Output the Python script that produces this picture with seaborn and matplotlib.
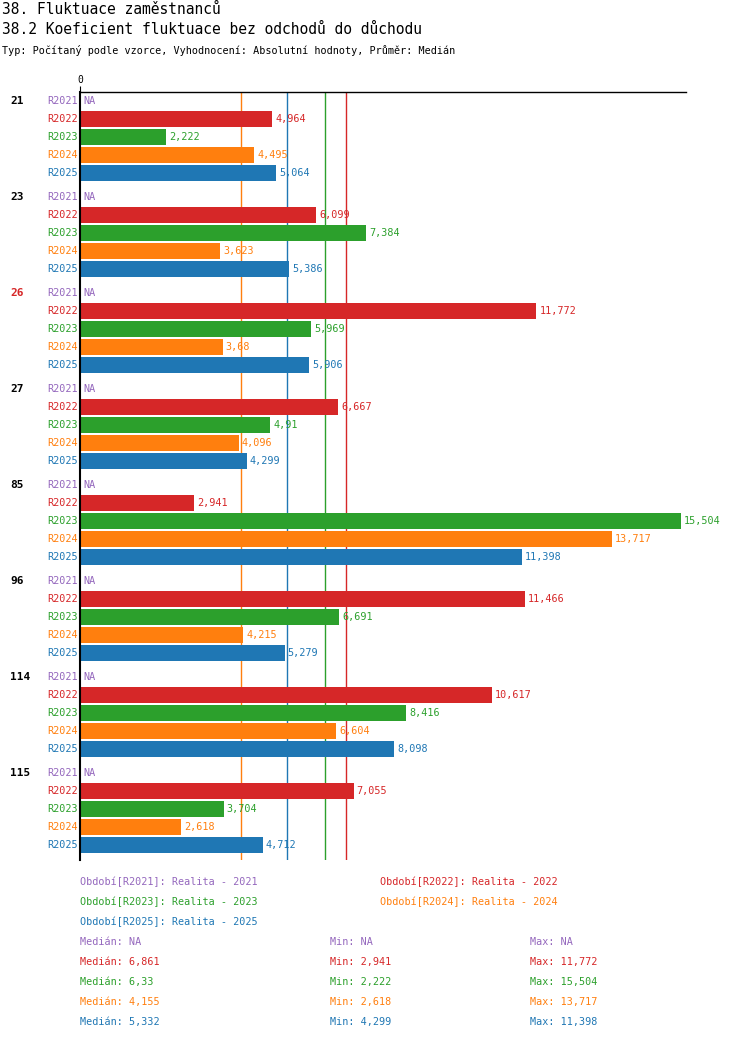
import matplotlib
matplotlib.use("Agg")
import matplotlib.pyplot as plt
import seaborn as sns
import pandas as pd
import numpy as np

groups = ["21", "23", "26", "27", "85", "96", "114", "115"]
series = ["R2021", "R2022", "R2023", "R2024", "R2025"]
colors = ["#9467bd", "#d62728", "#2ca02c", "#ff7f0e", "#1f77b4"]
r2021 = [np.nan] * 8
r2022 = [4.964, 6.099, 11.772, 6.667, 2.941, 11.466, 10.617, 7.055]
r2023 = [2.222, 7.384, 5.969, 4.91, 15.504, 6.691, 8.416, 3.704]
r2024 = [4.495, 3.623, 3.68, 4.096, 13.717, 4.215, 6.604, 2.618]
r2025 = [5.064, 5.386, 5.906, 4.299, 11.398, 5.279, 8.098, 4.712]
medians = [np.nan, 6.861, 6.33, 4.155, 5.332]
mins = [np.nan, 2.941, 2.222, 2.618, 4.299]
maxs = [np.nan, 11.772, 15.504, 13.717, 11.398]
highlight = "26"

def fmt(v):
    if np.isnan(v):
        return "NA"
    s = ("%.3f" % v).rstrip("0").rstrip(".")
    return s.replace(".", ",")

vals = [r2021, r2022, r2023, r2024, r2025]
GROUP_STEP = 96 / 18
rows = []
for g, grp in enumerate(groups):
    for i, s in enumerate(series):
        rows.append(dict(group=grp, series=s, value=vals[i][g], pos=g * GROUP_STEP + i))
df = pd.DataFrame(rows)

plt.rcParams["font.family"] = ["DejaVu Sans Mono"]
fig = plt.figure(figsize=(7.5, 10.4), dpi=100)
W, H = 750, 1040
ax = fig.add_axes([80 / W, 1 - 860 / H, (686 - 80) / W, (860 - 92) / H])
sns.barplot(data=df, x="value", y="pos", hue="series", palette=dict(zip(series, colors)),
            orient="h", native_scale=True, width=0.9, dodge=False, legend=False, ax=ax,
            saturation=1)
ax.set_xlim(0, (686 - 80) / 38.77)
ax.set_ylim(df["pos"].max() + 0.83, -0.5)
for sp in ["right", "bottom"]:
    ax.spines[sp].set_visible(False)
ax.spines["left"].set_linewidth(1.5)
ax.spines["top"].set_linewidth(1)
ax.xaxis.tick_top()
ax.set_xticks([0])
ax.set_xticklabels(["0"], fontsize=7)
ax.tick_params(axis="x", length=4, pad=1)
ax.set_yticks([])
ax.set_xlabel("")
ax.set_ylabel("")

for m, c in zip(medians, colors):
    if not np.isnan(m):
        ax.axvline(m, color=c, lw=1, zorder=0)

for _, r in df.iterrows():
    c = colors[series.index(r.series)]
    v = r.value
    ax.text((0 if np.isnan(v) else v) + 0.08, r.pos, fmt(v), color=c, fontsize=7.3,
            va="center", ha="left")
    ax.text(-0.05, r.pos, r.series, color=c, fontsize=7.3, va="center", ha="right",
            transform=ax.get_yaxis_transform() if False else ax.transData)
for g, grp in enumerate(groups):
    ax.text(10 / W, 1 - (101 + g * 96) / H, grp, transform=fig.transFigure, fontsize=8,
            fontweight="bold", va="center", color="#d62728" if grp == highlight else "black")

fig.text(2 / W, 1 - 10 / H, "38. Fluktuace zaměstnanců", fontsize=10.5, va="center")
fig.text(2 / W, 1 - 30 / H, "38.2 Koeficient fluktuace bez odchodů do důchodu", fontsize=10.5, va="center")
fig.text(2 / W, 1 - 50 / H, "Typ: Počítaný podle vzorce, Vyhodnocení: Absolutní hodnoty, Průměr: Medián",
         fontsize=7.3, va="center")

names = ["Realita - 2021", "Realita - 2022", "Realita - 2023", "Realita - 2024", "Realita - 2025"]
lpos = [(80, 882), (380, 882), (80, 902), (380, 902), (80, 922)]
for (x, y), s, n, c in zip(lpos, series, names, colors):
    fig.text(x / W, 1 - y / H, f"Období[{s}]: {n}", color=c, fontsize=7.3, va="center")
for i, c in enumerate(colors):
    y = 942 + 20 * i
    fig.text(80 / W, 1 - y / H, f"Medián: {fmt(medians[i])}", color=c, fontsize=7.3, va="center")
    fig.text(330 / W, 1 - y / H, f"Min: {fmt(mins[i])}", color=c, fontsize=7.3, va="center")
    fig.text(530 / W, 1 - y / H, f"Max: {fmt(maxs[i])}", color=c, fontsize=7.3, va="center")

fig.savefig("out.png", dpi=100)
